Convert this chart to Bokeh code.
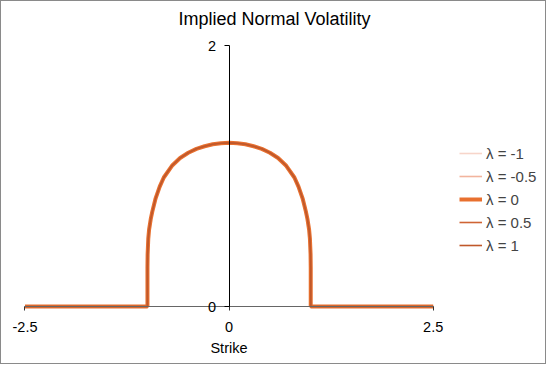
from bokeh.plotting import figure
from bokeh.models import Range1d, FixedTicker, Legend, LegendItem
from bokeh.embed import file_html
from bokeh.resources import INLINE

# ---- data ----
strike = [-2.5, -1.0, -1.0, -0.998, -0.99, -0.98, -0.96, -0.94, -0.9, -0.85, -0.8,
          -0.7, -0.6, -0.5, -0.4, -0.3, -0.2, -0.1, 0.0,
          0.1, 0.2, 0.3, 0.4, 0.5, 0.6, 0.7, 0.8, 0.85, 0.9, 0.94, 0.96, 0.98,
          0.99, 0.998, 1.0, 1.0, 2.5]
implied_vol = [0.0, 0.0, 0.30, 0.40, 0.52, 0.59, 0.67, 0.73, 0.83, 0.92, 0.99,
               1.08, 1.14, 1.18, 1.21, 1.23, 1.245, 1.253, 1.256,
               1.253, 1.245, 1.23, 1.21, 1.18, 1.14, 1.08, 0.99, 0.92, 0.83, 0.73, 0.67, 0.59,
               0.52, 0.40, 0.30, 0.0, 0.0]
lambdas = ["-1", "-0.5", "0", "0.5", "1"]
# all five lambda curves coincide in the picture
series = {lam: implied_vol for lam in lambdas}
colors = ["#f7d5ca", "#f2b49e", "#e8702f", "#cf6434", "#c0582a"]
widths = [1.6, 1.6, 4, 1.6, 1.6]

x_ticks = [-2.5, 0.0, 2.5]
x_tick_labels = ["-2.5", "0", "2.5"]
y_ticks = [0, 2]
y_tick_labels = ["0", "2"]

FONT = "Liberation Sans"

W, H = 546, 364
p = figure(width=W, height=H, output_backend="svg", toolbar_location=None,
           x_range=Range1d(-2.7878, 3.9001), y_range=Range1d(-0.4528, 2.0952),
           title="Implied Normal Volatility",
           min_border_left=0, min_border_right=0, min_border_bottom=0, min_border_top=32)
p.styles = {"border": "1px solid #8a8a8a"}
p.outline_line_color = None
p.grid.visible = False
p.background_fill_color = "white"
p.border_fill_color = "white"

p.title.align = "center"
p.title.text_font = FONT
p.title.text_font_size = "18px"
p.title.text_font_style = "normal"
p.title.text_color = "#000000"

items = []
for lam, c, w in zip(lambdas, colors, widths):
    r = p.line(strike, series[lam], line_color=c, line_width=w)
    items.append(LegendItem(label="λ = " + lam, renderers=[r]))

# axes through the origin
xa = p.xaxis[0]
xa.fixed_location = 0
xa.bounds = (-2.5, 2.5)
xa.ticker = FixedTicker(ticks=x_ticks)
xa.major_label_overrides = {t: s for t, s in zip(x_ticks, x_tick_labels)}
xa.minor_tick_line_color = None
xa.major_tick_in = 0
xa.major_tick_out = 4
xa.axis_line_color = "#666666"
xa.major_tick_line_color = "#333333"
xa.major_label_text_font = FONT
xa.major_label_text_font_size = "14.5px"
xa.major_label_text_color = "#000000"
xa.major_label_standoff = 11
xa.axis_label = "Strike"
xa.axis_label_text_font = FONT
xa.axis_label_text_font_size = "14.5px"
xa.axis_label_text_font_style = "normal"
xa.axis_label_text_color = "#000000"
xa.axis_label_standoff = 5

ya = p.yaxis[0]
ya.fixed_location = 0
ya.bounds = (0, 2)
ya.ticker = FixedTicker(ticks=y_ticks)
ya.major_label_overrides = {t: s for t, s in zip(y_ticks, y_tick_labels)}
ya.minor_tick_line_color = None
ya.major_tick_in = 0
ya.major_tick_out = 5
ya.axis_line_color = "#000000"
ya.major_tick_line_color = "#000000"
ya.major_label_text_font = FONT
ya.major_label_text_font_size = "14.5px"
ya.major_label_text_color = "#000000"
ya.major_label_standoff = 8

legend = Legend(items=items, location=(458, 110), padding=0, margin=0,
                spacing=3, glyph_width=23, glyph_height=20, label_standoff=4,
                label_text_font=FONT, label_text_font_size="15px",
                border_line_color=None, background_fill_alpha=0)
p.add_layout(legend)

open("out.html", "w").write(file_html(p, INLINE))
